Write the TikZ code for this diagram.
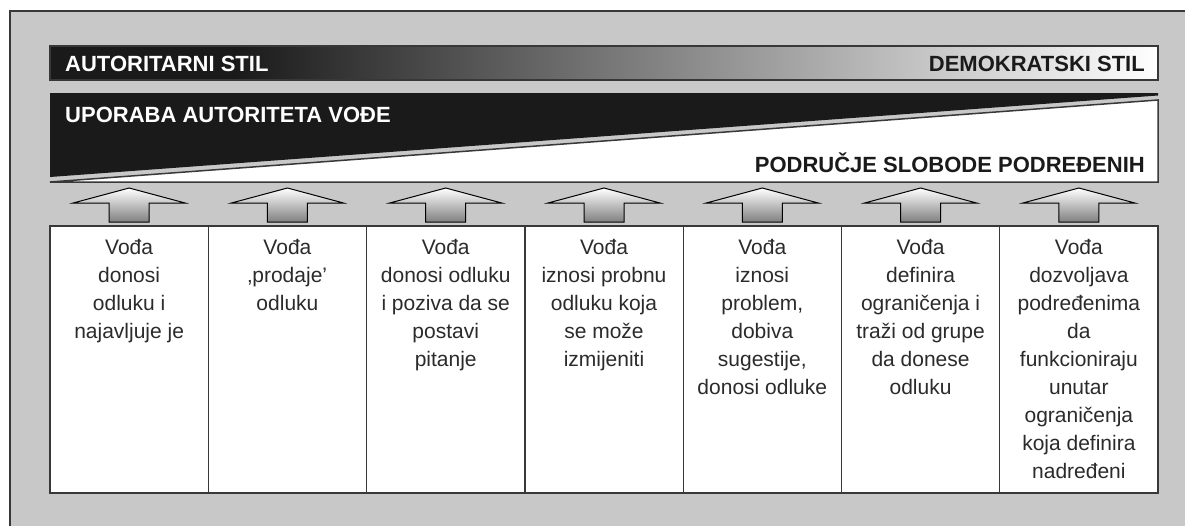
\documentclass[tikz,border=0pt]{standalone}
\usepackage{fontspec}
\setmainfont{Liberation Sans}
\definecolor{bg}{HTML}{C8C8C8}
\definecolor{framecol}{HTML}{383838}
\definecolor{blk}{HTML}{1A1A1A}
\definecolor{txt}{HTML}{2B2B2B}
\begin{document}
\begin{tikzpicture}[x=1pt,y=-1pt,line join=miter,
  coltext/.style={font=\fontsize{21}{28}\selectfont, align=center, text=txt, inner sep=0pt, anchor=north},
  titletext/.style={font=\fontsize{22}{26}\selectfont\bfseries, inner sep=0pt},
  colbox/.style={draw=framecol, fill=white, line width=1.3pt, minimum width=158.2857pt, minimum height=267pt, inner sep=0pt, outer sep=0pt, anchor=north west},
  uparrow/.style={top color=white, bottom color=black!50, draw=black, line width=1pt}]
\useasboundingbox (0,0) rectangle (1185,525);
\fill[white] (0,0) rectangle (1185,525);
\fill[bg] (10,11) rectangle (1186,526);
\draw[framecol, line width=2pt] (10,526) -- (10,11) -- (1186,11);
% style bar
\fill[blk] (50,46) rectangle (236,80);
\shade[left color=blk, right color=white] (235,46) rectangle (1158,80);
\draw[framecol, line width=1.5pt] (50,46) rectangle (1158,80);
\node[titletext, text=white, anchor=base west] (auto) at (65,71) {AUTORITARNI STIL};
\node[titletext, text=blk, anchor=base east] (demo) at (1145,71) {DEMOKRATSKI STIL};
% authority / freedom wedge
\fill[blk] (50,93) -- (1158,93) -- (1158,95.5) -- (50,177) -- cycle;
\filldraw[fill=white, draw=framecol, line width=1.5pt] (50,182) -- (1158,100) -- (1158,182) -- cycle;
\node[titletext, text=white, anchor=base west] (upor) at (65,122) {UPORABA AUTORITETA VOĐE};
\node[titletext, text=blk, anchor=base east] (podr) at (1145,172) {PODRUČJE SLOBODE PODREĐENIH};
% arrows
\foreach \i in {1,...,7} {
  \pgfmathsetmacro\cx{50+(\i-0.5)*158.2857}
  \shadedraw[uparrow] (\cx,188) -- (\cx+56,203) -- (\cx+20,203) -- (\cx+20,222) -- (\cx-20,222) -- (\cx-20,203) -- (\cx-56,203) -- cycle;
}
% columns
\foreach \i in {1,...,7} {
  \node[colbox] (c\i) at ({50+(\i-1)*158.2857},226) {};
}
\node[coltext] (t1) at ([yshift=-12.8pt]c1.north) {Vođa\\donosi\\odluku i\\najavljuje je};
\node[coltext] (t2) at ([yshift=-12.8pt]c2.north) {Vođa\\‚prodaje’\\odluku};
\node[coltext] (t3) at ([yshift=-12.8pt]c3.north) {Vođa\\donosi odluku\\i poziva da se\\postavi\\pitanje};
\node[coltext] (t4) at ([yshift=-12.8pt]c4.north) {Vođa\\iznosi probnu\\odluku koja\\se može\\izmijeniti};
\node[coltext] (t5) at ([yshift=-12.8pt]c5.north) {Vođa\\iznosi\\problem,\\dobiva\\sugestije,\\donosi odluke};
\node[coltext] (t6) at ([yshift=-12.8pt]c6.north) {Vođa\\definira\\ograničenja i\\traži od grupe\\da donese\\odluku};
\node[coltext] (t7) at ([yshift=-12.8pt]c7.north) {Vođa\\dozvoljava\\podređenima\\da\\funkcioniraju\\unutar\\ograničenja\\koja definira\\nadređeni};
\end{tikzpicture}
\end{document}
